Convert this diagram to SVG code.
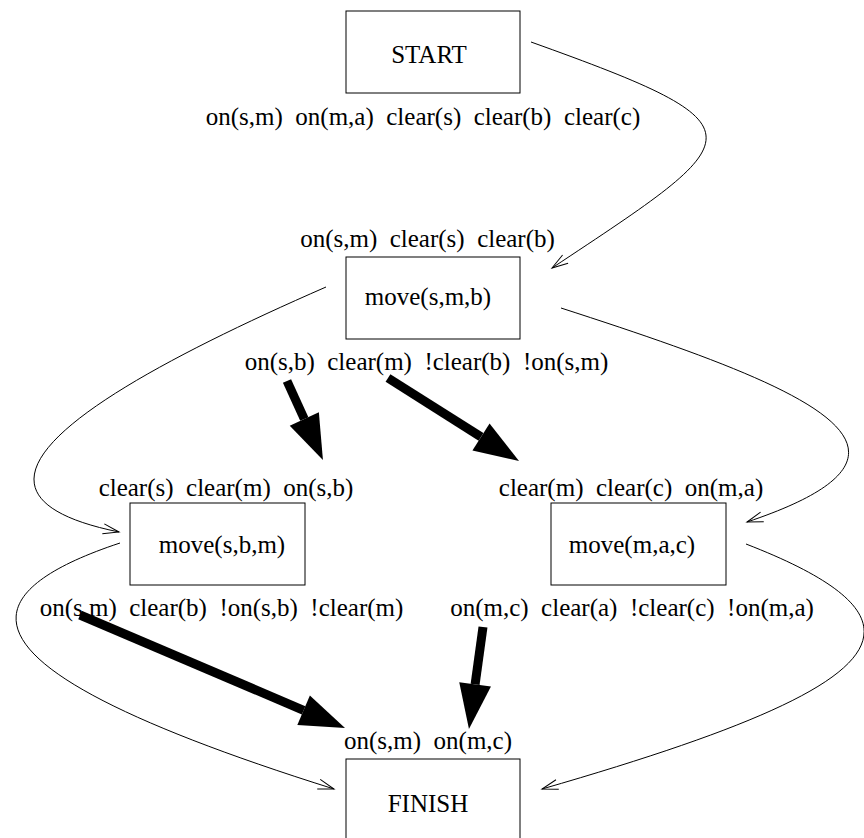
<svg xmlns="http://www.w3.org/2000/svg" width="864" height="838" viewBox="0 0 864 838">
<defs>
<style>
.box{fill:#fff;stroke:#000;stroke-width:1}
text{font-family:"Liberation Serif","Times New Roman",serif;font-size:25px;fill:#000;text-anchor:middle}
.thin{fill:none;stroke:#000;stroke-width:1;marker-end:url(#open)}
.thick{fill:none;stroke:#000;stroke-width:9;marker-end:url(#solid)}
</style>
<marker id="open" markerUnits="userSpaceOnUse" markerWidth="20" markerHeight="12" refX="16" refY="5" orient="auto" overflow="visible">
<path d="M0,0 L16,5 L0,10" fill="none" stroke="#000" stroke-width="1"/>
</marker>
<marker id="solid" markerUnits="userSpaceOnUse" markerWidth="46" markerHeight="34" refX="0" refY="16" orient="auto" overflow="visible">
<path d="M0,0 L45,16 L0,32 z" fill="#000"/>
</marker>
</defs>
<rect width="864" height="838" fill="#fff"/>
<g id="connectors">
<path class="thin" d="M531,42 C771,128 751,136 552,268"/>
<path class="thin" d="M326,287 C97,387 -77,492 119,532"/>
<path class="thin" d="M561,308 C799,385 965,449 747,522"/>
<path class="thin" d="M120,543 C-70,606 0,684 334,789"/>
<path class="thin" d="M746,544 C960,627 878,692 542,789"/>
<line class="thick" x1="287" y1="381" x2="304.3" y2="419"/>
<line class="thick" x1="388" y1="378" x2="481" y2="436.9"/>
<line class="thick" x1="80" y1="615" x2="303.6" y2="710.3"/>
<line class="thick" x1="483" y1="627" x2="475.1" y2="684.4"/>
</g>
<g id="start">
<rect class="box" x="346" y="11" width="174" height="82"/>
<text x="429" y="63">START</text>
<text x="423" y="125" xml:space="preserve">on(s,m)  on(m,a)  clear(s)  clear(b)  clear(c)</text>
</g>
<g id="move-s-m-b">
<text x="427.5" y="247" xml:space="preserve">on(s,m)  clear(s)  clear(b)</text>
<rect class="box" x="346" y="257" width="174" height="82"/>
<text x="428" y="305">move(s,m,b)</text>
<text x="426.5" y="370" xml:space="preserve">on(s,b)  clear(m)  !clear(b)  !on(s,m)</text>
</g>
<g id="move-s-b-m">
<text x="226" y="496" xml:space="preserve">clear(s)  clear(m)  on(s,b)</text>
<rect class="box" x="130" y="503" width="175" height="82"/>
<text x="222" y="553">move(s,b,m)</text>
<text x="221.5" y="616" xml:space="preserve">on(s,m)  clear(b)  !on(s,b)  !clear(m)</text>
</g>
<g id="move-m-a-c">
<text x="631" y="496" xml:space="preserve">clear(m)  clear(c)  on(m,a)</text>
<rect class="box" x="551" y="503" width="175" height="82"/>
<text x="632" y="553">move(m,a,c)</text>
<text x="632" y="616" xml:space="preserve">on(m,c)  clear(a)  !clear(c)  !on(m,a)</text>
</g>
<g id="finish">
<text x="428" y="749" xml:space="preserve">on(s,m)  on(m,c)</text>
<rect class="box" x="346" y="759" width="174" height="82"/>
<text x="428" y="812">FINISH</text>
</g>
</svg>
